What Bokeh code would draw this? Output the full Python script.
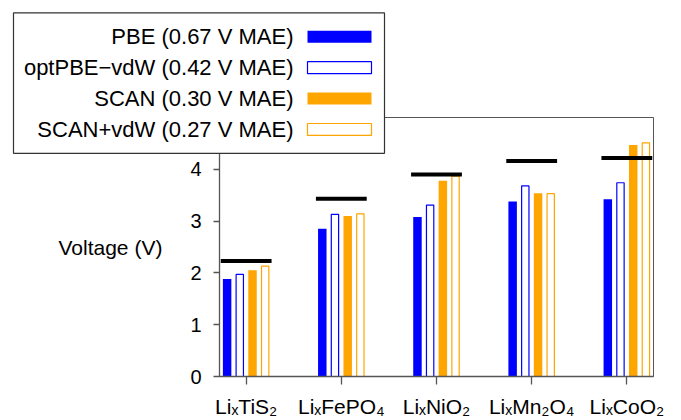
import numpy as np
from bokeh.plotting import figure
from bokeh.models import Range1d, FixedTicker
from bokeh.core.properties import value
from bokeh.embed import file_html
from bokeh.resources import INLINE

# ---- data ----
categories = ["LiₓTiS₂", "LiₓFePO₄", "LiₓNiO₂", "LiₓMn₂O₄", "LiₓCoO₂"]
experiment = [2.23, 3.43, 3.90, 4.16, 4.22]
pbe = [1.88, 2.85, 3.08, 3.38, 3.42]
optpbe_vdw = [1.97, 3.13, 3.31, 3.68, 3.74]
scan = [2.05, 3.10, 3.78, 3.54, 4.47]
scan_vdw = [2.13, 3.14, 3.87, 3.53, 4.51]
series_labels = ["PBE (0.67 V MAE)", "optPBE−vdW (0.42 V MAE)",
                 "SCAN (0.30 V MAE)", "SCAN+vdW (0.27 V MAE)"]
y_ticks = [0, 1, 2, 3, 4]

BLUE = "#0000ff"
ORANGE = "#ffa500"
FONT = "Liberation Sans"
AX = "#555555"

# frame placement on the canvas (pixels)
FL, FR, FT, FB = 219, 653, 117, 377
W, H = 681, 420

idx = np.arange(len(categories))

p = figure(width=W, height=H, x_range=Range1d(-0.28, 4.28), y_range=Range1d(0, 5),
           output_backend="svg", toolbar_location=None,
           min_border_left=FL, min_border_right=W - FR, min_border_top=FT, min_border_bottom=H - FB)
p.background_fill_color = "white"
p.border_fill_color = "white"
p.outline_line_color = AX
p.outline_line_width = 1
p.outline_line_alpha = 1
p.xgrid.grid_line_color = None
p.ygrid.grid_line_color = None

# bars
series = [(pbe, True, BLUE), (optpbe_vdw, False, BLUE), (scan, True, ORANGE), (scan_vdw, False, ORANGE)]
offsets = [-0.2, -0.067, 0.067, 0.2]
for (vals, filled, col), off in zip(series, offsets):
    if filled:
        p.vbar(x=idx + off, top=vals, bottom=0, width=0.089, fill_color=col, line_color=None)
    else:
        p.vbar(x=idx + off, top=vals, bottom=0, width=0.077, fill_color="white",
               line_color=col, line_width=1.2)

# experimental lines
p.segment(x0=idx - 0.267, x1=idx + 0.267, y0=experiment, y1=experiment,
          line_color="black", line_width=4, line_cap="butt")

# axes
p.xaxis.ticker = FixedTicker(ticks=list(idx))
p.xaxis.major_label_overrides = {int(i): c for i, c in zip(idx, categories)}
p.yaxis.ticker = FixedTicker(ticks=y_ticks)
for ax in (p.xaxis[0], p.yaxis[0]):
    ax.axis_line_color = AX
    ax.axis_line_width = 1.3
    ax.major_tick_line_color = AX
    ax.major_tick_line_width = 1.3
    ax.major_tick_in = 0
    ax.minor_tick_in = 0
    ax.minor_tick_out = 0
    ax.major_label_text_font = FONT
    ax.major_label_text_font_size = "20px"
    ax.major_label_text_color = "black"
p.xaxis.major_label_text_font_size = "21px"
p.xaxis.major_tick_out = 8
p.xaxis.major_label_standoff = 10
p.yaxis.major_tick_out = 6
p.yaxis.major_label_standoff = 12
p.yaxis.axis_label = "Voltage (V)"
p.yaxis.axis_label_orientation = "horizontal"
p.yaxis.axis_label_text_font = FONT
p.yaxis.axis_label_text_font_style = "normal"
p.yaxis.axis_label_text_font_size = "21px"
p.yaxis.axis_label_text_color = "black"
p.yaxis.axis_label_standoff = 25

# legend drawn in canvas-pixel coordinates (glyph on the right, text right-aligned)
p.extra_x_ranges = {"px": Range1d(FL, FR)}
p.extra_y_ranges = {"px": Range1d(FB, FT)}
LEG_L, LEG_T, LEG_R, LEG_B = 13, 12, 384, 153
row0, dy = 36, 31
rows = [row0 + dy * k for k in range(len(series_labels))]
p.quad(left=[LEG_L], right=[LEG_R], top=[LEG_T], bottom=[LEG_B],
       x_range_name="px", y_range_name="px", level="overlay",
       fill_color="white", line_color="#333333", line_width=1.2)
p.text(x=[293] * len(rows), y=rows, text=series_labels,
       x_range_name="px", y_range_name="px", level="overlay",
       text_align="right", text_baseline="middle", text_font=value(FONT),
       text_font_size="22px", text_color="black")
for (vals, filled, col), cy in zip(series, rows):
    p.quad(left=[307], right=[371], top=[cy - 6], bottom=[cy + 6],
           x_range_name="px", y_range_name="px", level="overlay",
           fill_color=col if filled else "white",
           line_color=None if filled else col, line_width=1.2)

open("out.html", "w").write(file_html(p, INLINE))
